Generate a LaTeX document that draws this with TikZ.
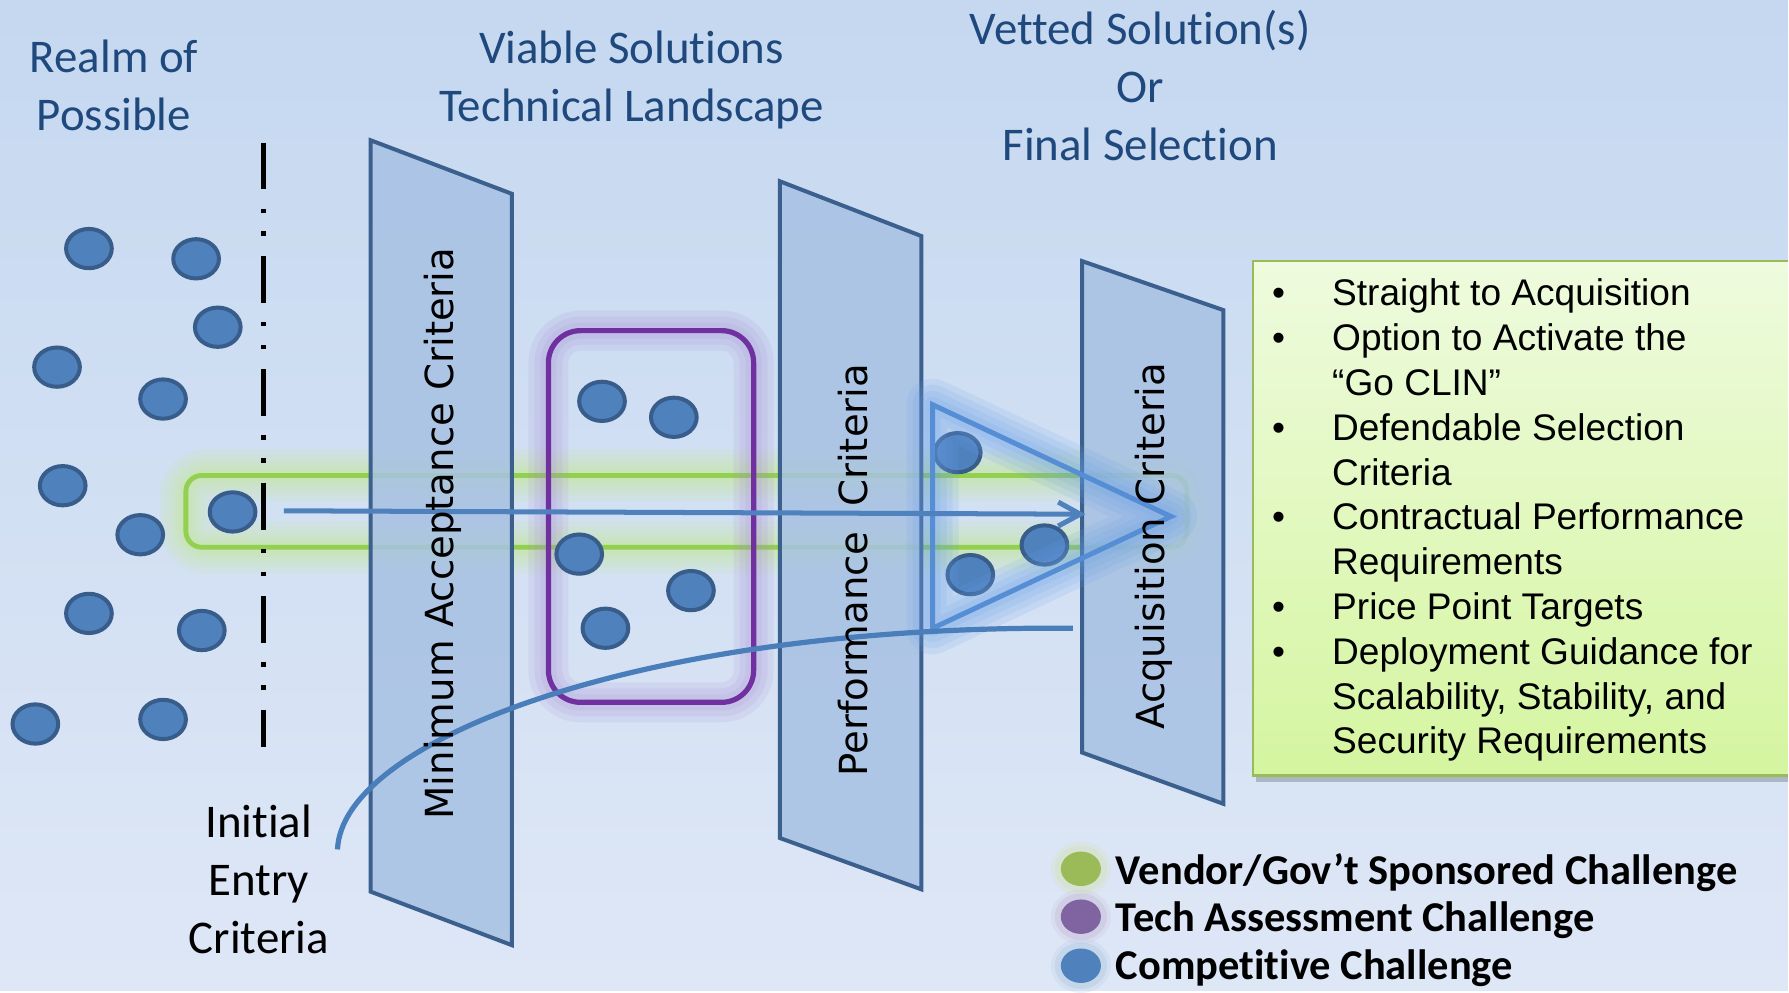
\documentclass[tikz,border=0pt]{standalone}
\usepackage{fontspec}
\setmainfont{Carlito}[Ligatures={TeX,NoCommon}]
\newfontfamily\planefont{DejaVu Sans}
\newfontfamily\listfont{Liberation Sans}
\usetikzlibrary{shapes.geometric,arrows.meta}

\definecolor{bgtop}{RGB}{197,216,240}
\definecolor{bgbot}{RGB}{222,231,246}
\definecolor{hdrblue}{RGB}{31,73,125}
\definecolor{dotfill}{RGB}{79,129,189}
\definecolor{dotline}{RGB}{56,93,138}
\definecolor{planefill}{RGB}{167,193,227}
\definecolor{planeline}{RGB}{60,96,142}
\definecolor{vgreen}{RGB}{146,208,80}
\definecolor{vglow}{RGB}{196,234,140}
\definecolor{tpurple}{RGB}{112,48,160}
\definecolor{tglow}{RGB}{168,140,212}
\definecolor{cblue}{RGB}{85,142,213}
\definecolor{cglow}{RGB}{105,160,232}
\definecolor{flowblue}{RGB}{74,126,187}
\definecolor{boxtop}{RGB}{238,251,222}
\definecolor{boxbot}{RGB}{213,245,160}
\definecolor{boxline}{RGB}{155,187,89}
\definecolor{leggreen}{RGB}{155,187,89}
\definecolor{legpurple}{RGB}{128,100,162}

\begin{document}
\begin{tikzpicture}[x=0.1mm,y=0.1mm,
	dot/.style={ellipse,draw=dotline,fill=dotfill,line width=1pt,minimum width=11.4pt,minimum height=9.8pt},
	plane/.style={fill=planefill,fill opacity=.85,draw=planeline,line width=1pt},
	planelabel/.style={rotate=90,font=\planefont\fontsize{9.65}{11}\selectfont},
	header/.style={align=center,text=hdrblue,font=\fontsize{11.7}{14.5}\selectfont},
	glow/.style={line width=#1,opacity=.14,line join=round},
	legdot/.style={ellipse,minimum width=10pt,minimum height=8.6pt,fill=#1,
		preaction={draw=#1!40,line width=5pt,draw opacity=.25},
		preaction={draw=#1!45,line width=3pt,draw opacity=.4}},
	legtext/.style={anchor=west,font=\bfseries\fontsize{10.6}{12}\selectfont}]
	\tikzstyle{every node}+=[inner sep=0pt]
	\shade [top color=bgtop,bottom color=bgbot] (0,0) rectangle (1568,-869);
	\node [header] (realm) at (100,-75) {Realm of\\Possible};
	\node [header] (viable) at (554,-70) {Viable Solutions\\Technical Landscape};
	\node [header] (vetted) at (1000,-75) {Vetted Solution(s)\\Or\\Final Selection};
	\node [align=center,font=\fontsize{11.7}{14.5}\selectfont] (entry) at (227,-771) {Initial\\Entry\\Criteria};
	% green challenge band
	\draw [vglow,glow=13pt,rounded corners=5pt] (163,-417) rectangle (1041,-480);
	\draw [vglow,glow=10pt,rounded corners=5pt] (163,-417) rectangle (1041,-480);
	\draw [vglow,glow=7pt,rounded corners=5pt] (163,-417) rectangle (1041,-480);
	\draw [vglow,glow=5pt,rounded corners=5pt] (163,-417) rectangle (1041,-480);
	\draw [vglow,glow=3pt,rounded corners=5pt] (163,-417) rectangle (1041,-480);
	\draw [vgreen,line width=1.2pt,rounded corners=4pt] (163,-417) rectangle (1041,-480);
	% criteria planes
	\filldraw [plane] (325,-123) -- (449,-170) -- (449,-829) -- (325,-782) -- cycle;
	\filldraw [plane] (684,-159) -- (808,-207) -- (808,-780) -- (684,-735) -- cycle;
	\filldraw [plane] (949,-229) -- (1073,-272) -- (1073,-705) -- (949,-660) -- cycle;
	% purple challenge box
	\draw [tglow,glow=10pt,rounded corners=8pt] (481,-290) rectangle (661,-616);
	\draw [tglow,glow=7pt,rounded corners=8pt] (481,-290) rectangle (661,-616);
	\draw [tglow,glow=4pt,rounded corners=8pt] (481,-290) rectangle (661,-616);
	\draw [tpurple,line width=1.3pt,rounded corners=8pt] (481,-290) rectangle (661,-616);
	\node [dot] (d1) at (78,-218) {};
	\node [dot] (d2) at (172,-227) {};
	\node [dot] (d3) at (191,-287) {};
	\node [dot] (d4) at (50,-322) {};
	\node [dot] (d5) at (143,-350) {};
	\node [dot] (d6) at (55,-426) {};
	\node [dot] (d7) at (123,-469) {};
	\node [dot] (d8) at (204,-449) {};
	\node [dot] (d9) at (78,-538) {};
	\node [dot] (d10) at (177,-553) {};
	\node [dot] (d11) at (31,-635) {};
	\node [dot] (d12) at (143,-631) {};
	\node [dot] (d13) at (528,-352) {};
	\node [dot] (d14) at (591,-366) {};
	\node [dot] (d15) at (508,-486) {};
	\node [dot] (d16) at (606,-518) {};
	\node [dot] (d17) at (531,-551) {};
	\node [dot] (d18) at (840,-397) {};
	\node [dot] (d19) at (916,-478) {};
	\node [dot] (d20) at (851,-504) {};
	% competitive funnel
	\coordinate (t1) at (818,-355);
	\coordinate (t2) at (1027,-453);
	\coordinate (t3) at (818,-551);
	\draw [cglow,glow=13pt] (t1) -- (t2) -- (t3) -- cycle;
	\draw [cglow,glow=10pt] (t1) -- (t2) -- (t3) -- cycle;
	\draw [cglow,glow=7pt] (t1) -- (t2) -- (t3) -- cycle;
	\draw [cglow,glow=4pt] (t1) -- (t2) -- (t3) -- cycle;
	\draw [cblue,line width=1.25pt] (t1) -- (t2) -- (t3) -- cycle;
	\coordinate (c0) at (296,-745);
	\coordinate (c1) at (941,-551);
	\draw [flowblue,line width=1.3pt] (c0) .. controls (300,-650) and (560,-548) .. (c1);
	\coordinate (a0) at (249,-448);
	\coordinate (a1) at (952,-451);
	\draw [dotfill,line width=1.25pt,-{Straight Barb[length=5.5pt,width=6pt]}] (a0) -- (a1);
	\node [planelabel] (mac) at (388,-468) {Minimum Acceptance Criteria};
	\node [planelabel] (pc) at (748,-500) {Performance\ \ Criteria};
	\node [planelabel] (ac) at (1012,-479) {Acquisition Criteria};
	\coordinate (e0) at (231,-125);
	\coordinate (e1) at (231,-655);
	\draw [black,line width=1.4pt,dash pattern=on 11.7pt off 4.8pt on 1.1pt off 4.6pt on 1.1pt off 5pt] (e0) -- (e1);
	% outcome box
	\fill [black,opacity=.2] (1102,-236) rectangle (1568,-686);
	\shade [top color=boxtop,bottom color=boxbot] (1099,-229) rectangle (1568,-680);
	\draw [boxline,line width=.6pt] (1568,-229) -- (1099,-229) -- (1099,-680) -- (1568,-680);
	\node [anchor=north west,align=left,font=\listfont\fontsize{9.25}{11.18}\selectfont] (notes) at (1115,-244) {%
		\makebox[15pt][l]{•}Straight to Acquisition\\
		\makebox[15pt][l]{•}Option to Activate the\\
		\hspace*{15pt}“Go CLIN”\\
		\makebox[15pt][l]{•}Defendable Selection\\
		\hspace*{15pt}Criteria\\
		\makebox[15pt][l]{•}Contractual Performance\\
		\hspace*{15pt}Requirements\\
		\makebox[15pt][l]{•}Price Point Targets\\
		\makebox[15pt][l]{•}Deployment Guidance for\\
		\hspace*{15pt}Scalability, Stability, and\\
		\hspace*{15pt}Security Requirements};
	% legend
	\node [legdot=leggreen] (lg1) at (948,-762) {};
	\node [legdot=legpurple] (lg2) at (948,-804) {};
	\node [legdot=dotfill] (lg3) at (948,-847) {};
	\node [legtext] (lt1) at (978,-765) {Vendor/Gov’t Sponsored Challenge};
	\node [legtext] (lt2) at (978,-807) {Tech Assessment Challenge};
	\node [legtext] (lt3) at (978,-849) {Competitive Challenge};
\end{tikzpicture}
\end{document}
